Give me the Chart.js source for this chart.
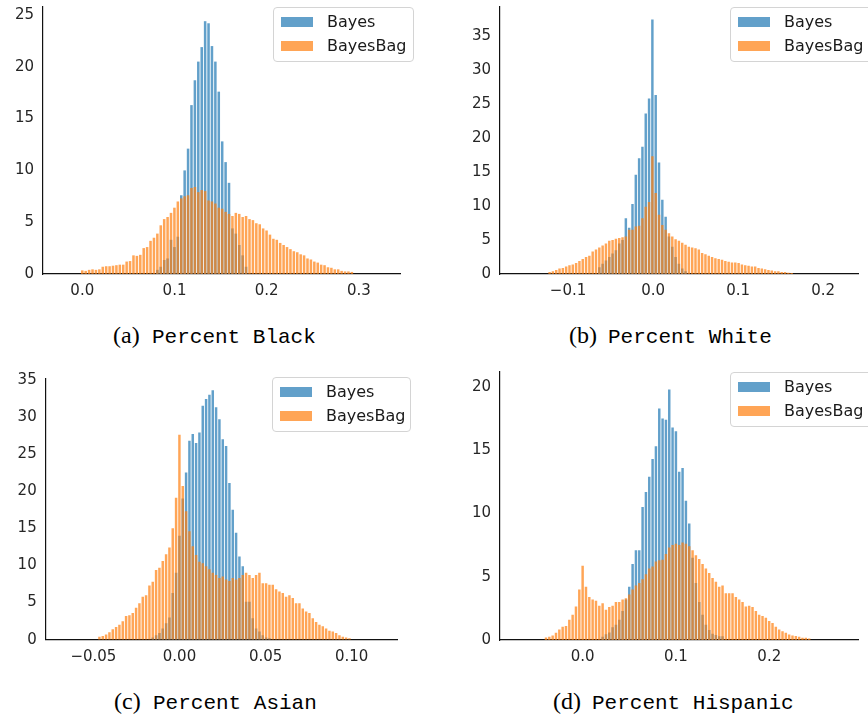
<!DOCTYPE html>
<html>
<head>
<meta charset="utf-8">
<script src="https://cdn.jsdelivr.net/npm/chart.js@4.4.1/dist/chart.umd.min.js"></script>
<style>
  html, body { margin: 0; padding: 0; background: #fff; }
  body { width: 868px; height: 717px; position: relative; overflow: hidden; }
  canvas { position: absolute; }
  .leg { position: absolute; box-sizing: border-box; height: 55px; border: 1px solid #d4d4d4; border-radius: 4px;
         background: rgba(255,255,255,0.8); padding: 1.5px 0 0 7px; font: 16px 'DejaVu Sans', sans-serif; color: #1a1a1a; }
  .leg .row { height: 24px; display: flex; align-items: center; line-height: 16px; white-space: nowrap; }
  .leg .row i { display: inline-block; width: 32px; height: 10px; margin-right: 14px; }
  .cap { position: absolute; line-height: 24px; white-space: nowrap; color: #000; }
  .cap .lbl { display: inline-block; width: 39px; font: 24px 'Liberation Serif', serif; }
  .cap .tt { font: 21px 'Liberation Mono', monospace; }
</style>
</head>
<body>
<canvas id="cBlack" width="410" height="300" style="left:0px;top:0px"></canvas>
<canvas id="cWhite" width="413" height="300" style="left:455px;top:0px"></canvas>
<canvas id="cAsian" width="410" height="300" style="left:0px;top:365px"></canvas>
<canvas id="cHisp" width="413" height="300" style="left:455px;top:365px"></canvas>

<div class="leg" style="left:273px;top:7px;width:141px">
  <div class="row"><i style="background:rgba(31,119,180,0.7)"></i>Bayes</div>
  <div class="row"><i style="background:rgba(255,127,14,0.7)"></i>BayesBag</div>
</div>
<div class="leg" style="left:730px;top:7px;width:145px">
  <div class="row"><i style="background:rgba(31,119,180,0.7)"></i>Bayes</div>
  <div class="row"><i style="background:rgba(255,127,14,0.7)"></i>BayesBag</div>
</div>
<div class="leg" style="left:272px;top:377px;width:139px">
  <div class="row"><i style="background:rgba(31,119,180,0.7)"></i>Bayes</div>
  <div class="row"><i style="background:rgba(255,127,14,0.7)"></i>BayesBag</div>
</div>
<div class="leg" style="left:730px;top:372px;width:145px">
  <div class="row"><i style="background:rgba(31,119,180,0.7)"></i>Bayes</div>
  <div class="row"><i style="background:rgba(255,127,14,0.7)"></i>BayesBag</div>
</div>

<div class="cap" style="left:113px;top:322px"><span class="lbl">(a)</span><span class="tt">Percent Black</span></div>
<div class="cap" style="left:569px;top:322px"><span class="lbl">(b)</span><span class="tt">Percent White</span></div>
<div class="cap" style="left:114px;top:688px"><span class="lbl">(c)</span><span class="tt">Percent Asian</span></div>
<div class="cap" style="left:553px;top:688px"><span class="lbl">(d)</span><span class="tt">Percent Hispanic</span></div>

<script>
// ---------------- data (histogram densities) ----------------
const seriesNames = ['Bayes', 'BayesBag'];

// (a) Percent Black
const blackBinStart = 0.0;        // centre of first bin
const blackBinWidth = 0.0037;
const blackBayesFirstBin = 22;
const blackBayes = [0.4,0.7,1.35,1.5,3.3,2.6,3.6,7.6,10.0,12.1,16.3,18.7,20.5,21.9,24.4,24.2,22.0,20.5,17.6,12.8,10.8,8.8,4.4,3.9,2.8,1.8,0.7];
const blackBayesBag = [0.35,0.3,0.4,0.45,0.4,0.45,0.7,0.75,0.75,0.8, 0.85,0.9,0.9,1.2,1.25,1.8,1.75,1.85,2.5,2.6,
  3.2,3.5,3.9,4.7,5.3,5.5,5.9,6.4,7.0,7.3, 7.5,7.6,8.3,8.4,7.9,8.1,8.0,7.1,7.0,6.8,
  6.4,6.3,6.0,5.8,5.6,5.9,5.8,5.5,5.6,5.3, 5.2,4.9,4.8,4.4,4.2,3.8,3.4,3.3,3.0,2.8,
  2.6,2.4,2.2,2.1,1.9,1.8,1.5,1.4,1.2,1.1, 0.9,0.85,0.65,0.6,0.45,0.45,0.3,0.25,0.25,0.2];
const blackXTicks = [0.0, 0.1, 0.2, 0.3];

// (b) Percent White
const whiteBinStart = -0.1217;
const whiteBinWidth = 0.0039;
const whiteBayesFirstBin = 15;
const whiteBayes = [1.0,1.5,2.0,2.5,3.0,3.5,4.5,5.0, 8.2,6.8,10.3,14.6,17.0,18.7,23.6,25.8,37.4,26.3,16.4,10.9,8.4, 5.5,4.0,2.5,1.5,0.8,0.4];
const whiteBayesBag = [0.3,0.4,0.6,0.8,0.9,1.1,1.3,1.4,1.6,1.9, 2.2,2.5,2.7,3.3,3.6,3.9,4.2,4.5,4.9,5.0,
  5.2,5.3,5.4,5.5,6.5,6.5,7.0,7.1,8.2,9.9, 10.6,17.3,11.9,8.7,7.2,6.5,6.0,5.5,5.1,4.9,
  4.6,4.3,4.0,3.9,3.8,3.6,3.1,2.9,2.7,2.5, 2.3,2.2,2.1,1.9,1.8,1.7,1.7,1.6,1.4,1.3,
  1.2,1.1,1.1,0.9,0.8,0.7,0.6,0.5,0.4,0.4, 0.3,0.3,0.2,0.15];
const whiteXTicks = [-0.1, 0.0, 0.1, 0.2];

// (c) Percent Asian
const asianBinStart = -0.0465;
const asianBinWidth = 0.001936;
const asianBayesFirstBin = 16;
const asianBayes = [0.3,0.6,0.9,1.5,2.2,3.0,6.3,9.0,14.0,19.0, 22.5,26.8,27.7,26.5,27.9,31.5,32.4,33.0,33.6,31.3,
  29.7,27.0,26.1,21.1,17.5,14.4,11.2,9.9,5.1,5.1, 2.9,1.5,1.1,0.6,0.3,0.2];
const asianBayesBag = [0.4,0.5,0.7,1.0,1.4,1.7,2.0,2.5,3.2,3.3, 3.6,4.3,4.9,5.8,6.0,7.3,7.8,9.4,9.7,10.6,
  11.5,12.4,15.0,19.1,27.6,20.7,17.3,14.6,12.6,11.4, 10.5,10.3,9.9,9.5,9.0,8.7,8.3,8.5,8.1,7.9,
  8.3,8.1,8.3,8.7,9.0,8.7,8.3,8.7,9.0,7.6, 7.6,7.4,7.4,6.8,6.5,6.3,5.8,6.0,5.6,4.9,
  4.9,4.2,3.8,3.6,2.9,2.4,2.0,1.8,1.5,1.2, 1.1,0.9,0.6,0.4,0.3,0.2];
const asianXTicks = [-0.05, 0.0, 0.05, 0.10];

// (d) Percent Hispanic
const hispBinStart = -0.0393;
const hispBinWidth = 0.00357;
const hispBayesFirstBin = 17;
const hispBayes = [0.26,0.45,0.6,1.0,1.2,1.6,2.3,3.2,4.2,6.0, 7.1,7.1,10.5,11.7,12.9,14.3,15.3,18.3,17.5,17.4,
  19.8,16.8,16.5,13.3,13.6,11.0,9.2,6.5,4.5,3.0, 2.0,1.2,0.8,0.5,0.4,0.3,0.3];
const hispBayesBag = [0.2,0.26,0.36,0.57,0.83,1.04,1.1,1.6,2.0,2.65, 4.0,5.86,4.2,3.4,3.2,3.1,2.7,2.9,2.4,2.6,
  2.7,3.0,3.0,3.2,3.3,3.6,4.0,4.3,4.5,4.8, 5.2,5.65,5.8,6.2,6.3,6.35,6.8,7.3,7.5,7.6,
  7.5,7.7,7.6,7.4,7.1,6.7,6.4,6.0,5.65,5.3, 4.9,4.6,4.2,4.3,3.7,3.7,3.7,3.4,3.2,3.0,
  2.65,2.7,2.6,2.3,2.0,1.9,1.75,1.5,1.35,1.04, 0.83,0.7,0.57,0.44,0.36,0.31,0.26,0.18,0.18,0.12];
const hispXTicks = [0.0, 0.1, 0.2];

// ---------------- rendering ----------------
const BLUE = 'rgba(31,119,180,0.7)';
const ORANGE = 'rgba(255,127,14,0.7)';
const TEXT = '#262626';

function binPoints(start, width, firstBin, heights) {
  return heights.map((h, k) => ({ x: start + (firstBin + k) * width, y: h }));
}
function fmtTick(v, dec) {
  const s = Math.abs(v).toFixed(dec);
  return (v < -1e-9 ? '\u2212' : '') + s;
}

function makePanel(id, d, lay) {
  new Chart(document.getElementById(id), {
    type: 'bar',
    data: {
      datasets: [
        { label: seriesNames[0], data: binPoints(d.start, d.width, d.bayesFirst, d.bayes), backgroundColor: BLUE, order: 2 },
        { label: seriesNames[1], data: binPoints(d.start, d.width, 0, d.bag), backgroundColor: ORANGE, order: 1 }
      ]
    },
    options: {
      responsive: false,
      animation: false,
      devicePixelRatio: 1,
      events: [],
      layout: { padding: { top: lay.padTop, right: lay.padRight, left: 0, bottom: 0 } },
      datasets: { bar: { grouped: false, barPercentage: 0.74, categoryPercentage: 1, borderWidth: 0 } },
      plugins: { legend: { display: false }, tooltip: { enabled: false } },
      scales: {
        x: {
          type: 'linear', offset: false, min: lay.xmin, max: lay.xmax,
          grid: { display: false, drawTicks: false },
          border: { display: true, color: '#111', width: 1.2 },
          afterBuildTicks: (s) => { s.ticks = d.xticks.map(v => ({ value: v })); },
          ticks: { padding: 8, color: TEXT, font: { family: 'DejaVu Sans', size: 15 }, maxRotation: 0, autoSkip: false,
                   callback: (v) => fmtTick(v, d.xdec) },
          afterFit: (s) => { s.height = lay.xh; s.paddingLeft = 0; s.paddingRight = 0; }
        },
        y: {
          type: 'linear', min: 0, max: lay.ymax,
          grid: { display: false, drawTicks: false },
          border: { display: true, color: '#111', width: 1.2 },
          ticks: { stepSize: 5, includeBounds: false, padding: 9, color: TEXT, font: { family: 'DejaVu Sans', size: 15 },
                   callback: (v) => String(Math.round(v)) },
          afterFit: (s) => { s.width = lay.yw; s.paddingTop = 0; s.paddingBottom = 0; }
        }
      }
    }
  });
}

makePanel('cBlack',
  { start: blackBinStart, width: blackBinWidth, bayesFirst: blackBayesFirstBin, bayes: blackBayes, bag: blackBayesBag, xticks: blackXTicks, xdec: 1 },
  { padTop: 7, padRight: 10, yw: 43, xh: 26, xmin: -0.0426, xmax: 0.3445, ymax: 25.77 });
makePanel('cWhite',
  { start: whiteBinStart, width: whiteBinWidth, bayesFirst: whiteBayesFirstBin, bayes: whiteBayes, bag: whiteBayesBag, xticks: whiteXTicks, xdec: 1 },
  { padTop: 6.7, padRight: 10, yw: 45, xh: 26, xmin: -0.18, xmax: 0.241, ymax: 39.3 });
makePanel('cAsian',
  { start: asianBinStart, width: asianBinWidth, bayesFirst: asianBayesFirstBin, bayes: asianBayes, bag: asianBayesBag, xticks: asianXTicks, xdec: 2 },
  { padTop: 13.3, padRight: 12.7, yw: 45.7, xh: 25.3, xmin: -0.0777, xmax: 0.1265, ymax: 35.2 });
makePanel('cHisp',
  { start: hispBinStart, width: hispBinWidth, bayesFirst: hispBayesFirstBin, bayes: hispBayes, bag: hispBayesBag, xticks: hispXTicks, xdec: 1 },
  { padTop: 6.7, padRight: 9.7, yw: 45, xh: 25, xmin: -0.0886, xmax: 0.2954, ymax: 21.2 });
</script>
</body>
</html>
